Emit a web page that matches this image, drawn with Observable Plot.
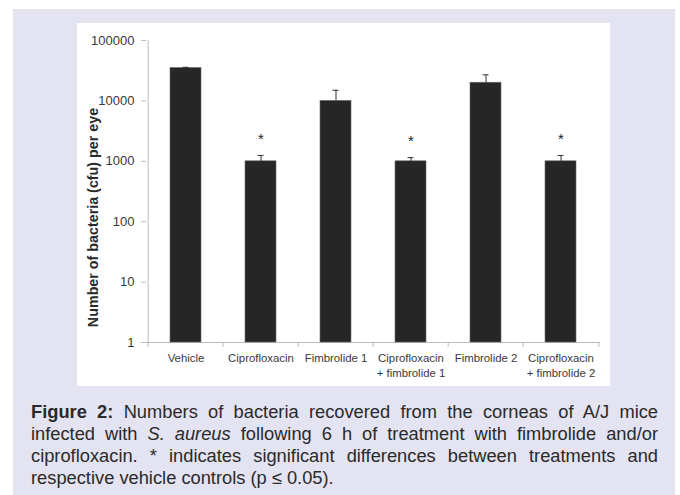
<!DOCTYPE html>
<html>
<head>
<meta charset="utf-8">
<script src="https://cdn.jsdelivr.net/npm/d3@7"></script>
<script src="https://cdn.jsdelivr.net/npm/@observablehq/plot@0.6"></script>
<style>
  html, body { margin: 0; padding: 0; background: #ffffff; }
  body { width: 680px; height: 495px; position: relative; overflow: hidden; font-family: "Liberation Sans", Arial, sans-serif; }
  #bg { position: absolute; left: 13px; top: 9px; width: 662px; height: 486px; background: #e4e3f1; }
  #panel { position: absolute; left: 77px; top: 23px; width: 533px; height: 363px; background: #ffffff; }
  #panel svg { display: block; }
  #caption { position: absolute; left: 31px; top: 401px; width: 627px; font-size: 18.3px; line-height: 22px; color: #2a2a2a; text-align: justify; }
</style>
</head>
<body>
<div id="bg"></div>
<div id="panel"></div>
<div id="caption"><b>Figure 2:</b> Numbers of bacteria recovered from the corneas of A/J mice infected with <i>S. aureus</i> following 6 h of treatment with fimbrolide and/or ciprofloxacin. * indicates significant differences between treatments and respective vehicle controls (p ≤ 0.05).</div>
<script>
const categories = ["Vehicle", "Ciprofloxacin", "Fimbrolide 1", "Ciprofloxacin\n+ fimbrolide 1", "Fimbrolide 2", "Ciprofloxacin\n+ fimbrolide 2"];
const values = [35000, 1000, 10000, 1000, 20000, 1000];
const errorHigh = [36000, 1250, 15000, 1150, 27000, 1250];
const significant = [false, true, false, true, false, true];
const yTicks = [1, 10, 100, 1000, 10000, 100000];
const yLabel = "Number of bacteria (cfu) per eye";

const data = categories.map((c, i) => ({cat: c, value: values[i], hi: errorHigh[i], sig: significant[i]}));

const W = 533, H = 363;
const mL = 69, mR = 10, mT = 17, mB = 44;
const step = (W - mL - mR) / categories.length;

const chart = Plot.plot({
  width: W,
  height: H,
  marginLeft: mL,
  marginRight: mR,
  marginTop: mT,
  marginBottom: mB,
  style: {fontFamily: "'Liberation Sans', Arial, sans-serif", background: "transparent"},
  x: {domain: categories, paddingInner: 0.59, paddingOuter: 0.295, label: null},
  y: {type: "log", domain: [1, 100000], label: null},
  marks: [
    Plot.ruleX([categories[0]], {x: d => d, y1: 1, y2: 100000, dx: -step / 2, stroke: "#bdbdbd", strokeWidth: 1}),
    Plot.ruleY([1], {stroke: "#bdbdbd", strokeWidth: 1}),
    Plot.ruleX(categories, {x: d => d, y1: 1, y2: 1, insetBottom: -5, dx: -step / 2, stroke: "#bdbdbd"}),
    Plot.ruleX([categories[categories.length - 1]], {x: d => d, y1: 1, y2: 1, insetBottom: -5, dx: step / 2, stroke: "#bdbdbd"}),
    Plot.axisY({ticks: yTicks, tickFormat: d => String(d), tickSize: 5, tickPadding: 7, stroke: "#bdbdbd", fill: "#3a3a3a", fontSize: 13, label: null}),
    Plot.axisX({tickSize: 0, tickPadding: 9, fill: "#3a3a3a", fontSize: 11.4, label: null, lineHeight: 1.3}),
    Plot.barY(data, {x: "cat", y1: 1, y2: "value", fill: "#262626", stroke: "#6a6a6a", strokeWidth: 0.6}),
    Plot.ruleX(data, {x: "cat", y1: "value", y2: "hi", stroke: "#333", strokeWidth: 1}),
    Plot.tickY(data, {x: "cat", y: "hi", stroke: "#333", strokeWidth: 1, insetLeft: 12.5, insetRight: 12.5}),
    Plot.text(data.filter(d => d.sig), {x: "cat", y: "hi", text: () => "*", dy: -16, fontSize: 15, fill: "#222"}),
    Plot.text([yLabel], {frameAnchor: "left", textAnchor: "middle", text: d => d, rotate: -90, dx: -53, dy: 26, fontWeight: "bold", fontSize: 14.3, fill: "#2a2a2a"})
  ]
});
document.getElementById("panel").appendChild(chart);
</script>
</body>
</html>
